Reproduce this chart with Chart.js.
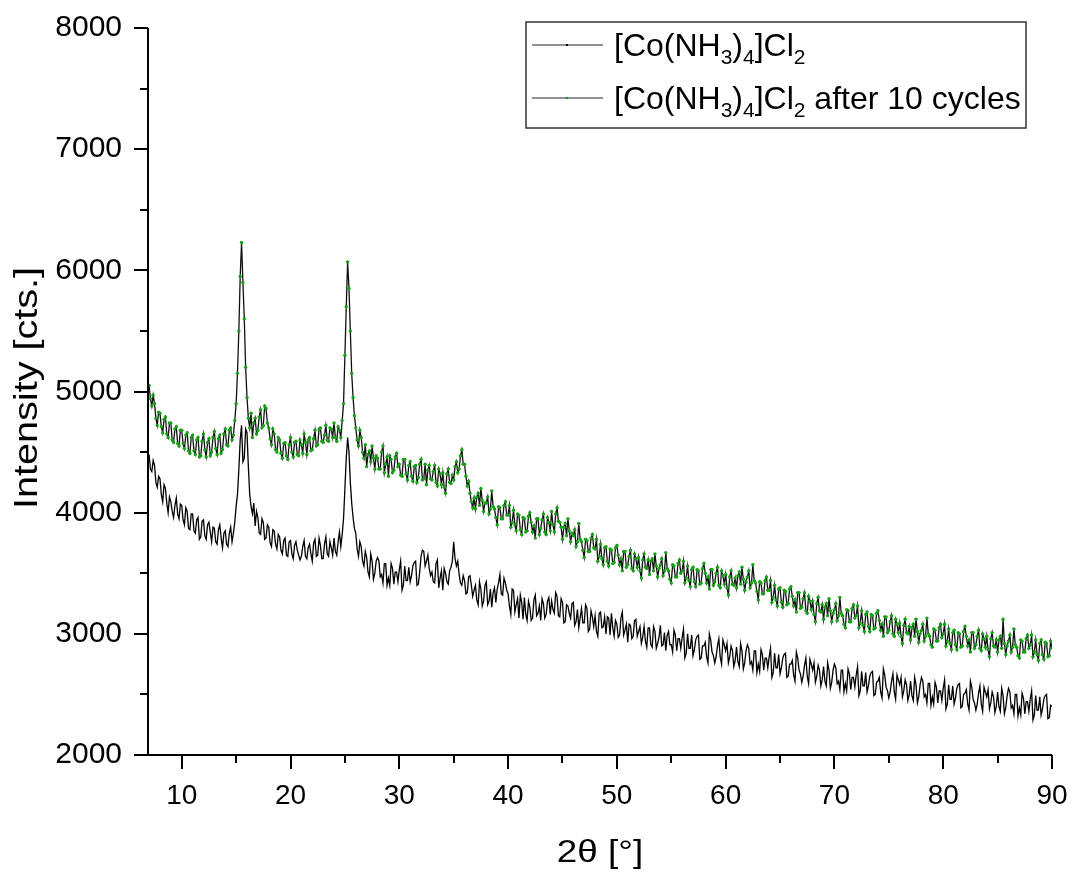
<!DOCTYPE html>
<html>
<head>
<meta charset="utf-8">
<script src="https://cdn.jsdelivr.net/npm/chart.js@4.4.0/dist/chart.umd.min.js"></script>
<style>
  html, body { margin: 0; padding: 0; background: #fff; }
  #xrd { display: block; }
</style>
</head>
<body>
<canvas id="xrd" width="1073" height="875"></canvas>
<script>
// 2theta sampling of both scans (8 points per degree)
const angleStart = 7;
const angleStep = 0.125;

// [Co(NH3)4]Cl2, as prepared (black)
const fresh = [
  4480, 4360, 4340, 4430, 4390, 4250, 4210, 4300,   // 7
  4280, 4150, 4090, 4230, 4200, 4080, 4000, 4130,   // 8
  4090, 4010, 3960, 4060, 4120, 3990, 3950, 4070,   // 9
  4060, 3940, 3900, 4040, 4010, 3870, 3860, 3990,   // 10
  3990, 3850, 3830, 3940, 3960, 3780, 3800, 3930,   // 11
  3940, 3810, 3780, 3900, 3920, 3840, 3760, 3880,   // 12
  3870, 3760, 3740, 3860, 3900, 3790, 3710, 3830,   // 13
  3850, 3740, 3720, 3830, 3880, 3760, 3830, 3920,   // 14
  4050, 4150, 4350, 4600, 4720, 4420, 4450, 4690,   // 15
  4660, 4380, 4150, 4050, 3990, 4080, 3890, 4010,   // 16
  3960, 3830, 3820, 3950, 3920, 3780, 3790, 3900,   // 17
  3880, 3750, 3720, 3860, 3850, 3740, 3700, 3820,   // 18
  3800, 3690, 3660, 3770, 3790, 3650, 3640, 3760,   // 19
  3770, 3660, 3620, 3730, 3760, 3690, 3650, 3610,   // 20
  3640, 3720, 3770, 3640, 3620, 3710, 3740, 3660,   // 21
  3600, 3750, 3780, 3640, 3650, 3790, 3730, 3620,   // 22
  3620, 3740, 3800, 3660, 3640, 3760, 3710, 3650,   // 23
  3790, 3680, 3650, 3760, 3840, 3720, 3820, 3950,   // 24
  4200, 4450, 4620, 4500, 4250, 4080, 3960, 3870,   // 25
  3830, 3700, 3640, 3760, 3720, 3600, 3560, 3680,   // 26
  3630, 3510, 3470, 3660, 3600, 3450, 3500, 3600,   // 27
  3630, 3600, 3470, 3490, 3420, 3580, 3580, 3400,   // 28
  3460, 3400, 3580, 3540, 3410, 3510, 3510, 3430,   // 29
  3530, 3600, 3360, 3400, 3560, 3440, 3440, 3550,   // 30
  3430, 3480, 3560, 3590, 3600, 3400, 3410, 3510,   // 31
  3640, 3690, 3680, 3560, 3600, 3650, 3540, 3480,   // 32
  3510, 3430, 3420, 3580, 3610, 3380, 3460, 3520,   // 33
  3360, 3540, 3500, 3430, 3410, 3520, 3550, 3600,   // 34
  3760, 3620, 3560, 3600, 3490, 3420, 3400, 3480,   // 35
  3440, 3330, 3340, 3470, 3480, 3400, 3310, 3360,   // 36
  3400, 3280, 3240, 3430, 3370, 3230, 3270, 3400,   // 37
  3430, 3240, 3270, 3370, 3220, 3340, 3380, 3260,   // 38
  3370, 3420, 3490, 3330, 3320, 3460, 3420, 3360,   // 39
  3330, 3230, 3160, 3370, 3360, 3180, 3240, 3290,   // 40
  3130, 3320, 3260, 3120, 3300, 3160, 3110, 3270,   // 41
  3220, 3110, 3130, 3280, 3320, 3150, 3170, 3230,   // 42
  3110, 3290, 3250, 3130, 3160, 3270, 3300, 3160,   // 43
  3270, 3200, 3170, 3340, 3310, 3150, 3140, 3290,   // 44
  3260, 3090, 3100, 3240, 3230, 3170, 3130, 3250,   // 45
  3260, 3070, 3100, 3200, 3050, 3130, 3210, 3090,   // 46
  3090, 3240, 3210, 3020, 3040, 3190, 3140, 3060,   // 47
  3150, 3020, 2980, 3170, 3180, 3050, 3060, 3140,   // 48
  3000, 3140, 3130, 2990, 3170, 3050, 2980, 3110,   // 49
  3080, 2970, 2990, 3130, 3180, 2990, 3030, 3080,   // 50
  2930, 3080, 3070, 2960, 2980, 3110, 3120, 2980,   // 51
  3020, 3060, 2920, 2970, 3060, 2940, 2890, 3050,   // 52
  3050, 2910, 2890, 3060, 3020, 2880, 2920, 2970,   // 53
  3070, 2900, 2910, 3010, 2860, 2990, 3020, 2910,   // 54
  2910, 2850, 3030, 2990, 2860, 2960, 2960, 2880,   // 55
  2970, 3040, 2800, 2840, 3000, 2880, 2880, 2990,   // 56
  2820, 2870, 2950, 2980, 2990, 2790, 2800, 2900,   // 57
  2900, 2930, 2810, 2760, 3000, 2950, 2850, 2820,   // 58
  2760, 2810, 2900, 2960, 2810, 2750, 2950, 2910,   // 59
  2860, 2920, 2760, 2810, 2900, 2860, 2730, 2780,   // 60
  2890, 2770, 2730, 2920, 2860, 2710, 2760, 2860,   // 61
  2910, 2880, 2750, 2770, 2700, 2860, 2860, 2680,   // 62
  2750, 2690, 2870, 2830, 2700, 2800, 2800, 2720,   // 63
  2810, 2880, 2640, 2680, 2840, 2720, 2720, 2830,   // 64
  2670, 2720, 2800, 2830, 2840, 2640, 2650, 2750,   // 65
  2750, 2780, 2660, 2610, 2850, 2800, 2700, 2670,   // 66
  2600, 2650, 2740, 2800, 2650, 2590, 2790, 2750,   // 67
  2700, 2760, 2600, 2650, 2740, 2700, 2570, 2620,   // 68
  2730, 2610, 2570, 2760, 2700, 2550, 2600, 2700,   // 69
  2750, 2720, 2590, 2610, 2540, 2700, 2700, 2520,   // 70
  2590, 2530, 2710, 2670, 2540, 2640, 2640, 2560,   // 71
  2660, 2730, 2490, 2530, 2690, 2570, 2570, 2680,   // 72
  2520, 2570, 2650, 2680, 2690, 2490, 2500, 2600,   // 73
  2610, 2640, 2520, 2470, 2710, 2660, 2560, 2530,   // 74
  2470, 2520, 2610, 2670, 2520, 2460, 2660, 2620,   // 75
  2580, 2640, 2480, 2530, 2620, 2580, 2450, 2500,   // 76
  2610, 2490, 2450, 2640, 2580, 2430, 2480, 2580,   // 77
  2640, 2610, 2480, 2500, 2430, 2590, 2590, 2410,   // 78
  2480, 2420, 2600, 2560, 2430, 2530, 2530, 2450,   // 79
  2550, 2620, 2380, 2420, 2580, 2460, 2460, 2570,   // 80
  2420, 2470, 2550, 2580, 2590, 2390, 2400, 2500,   // 81
  2510, 2540, 2420, 2370, 2610, 2560, 2460, 2430,   // 82
  2370, 2420, 2510, 2570, 2420, 2360, 2560, 2520,   // 83
  2480, 2540, 2380, 2430, 2520, 2480, 2350, 2400,   // 84
  2520, 2400, 2360, 2550, 2490, 2340, 2390, 2490,   // 85
  2550, 2520, 2390, 2410, 2340, 2500, 2500, 2320,   // 86
  2390, 2330, 2510, 2470, 2340, 2440, 2440, 2360,   // 87
  2460, 2530, 2290, 2330, 2490, 2370, 2370, 2480,   // 88
  2330, 2380, 2460, 2490, 2500, 2300, 2310, 2410,   // 89
  2400                                              // 90
];

// same compound after 10 cycles (green)
const cycled = [
  5050, 4940, 4880, 4970, 4900, 4780, 4720, 4830,   // 7
  4820, 4710, 4660, 4770, 4790, 4650, 4620, 4740,   // 8
  4740, 4600, 4580, 4690, 4710, 4570, 4550, 4680,   // 9
  4680, 4570, 4530, 4640, 4660, 4510, 4490, 4620,   // 10
  4640, 4510, 4480, 4600, 4620, 4460, 4470, 4590,   // 11
  4650, 4520, 4460, 4580, 4610, 4470, 4500, 4620,   // 12
  4670, 4530, 4480, 4610, 4640, 4490, 4520, 4650,   // 13
  4690, 4560, 4550, 4680, 4700, 4600, 4640, 4760,   // 14
  4900, 5150, 5500, 5950, 6230, 5900, 5600, 5200,   // 15
  4950, 4780, 4700, 4820, 4620, 4740, 4780, 4650,   // 16
  4680, 4790, 4850, 4700, 4720, 4880, 4860, 4740,   // 17
  4700, 4610, 4560, 4690, 4650, 4520, 4500, 4620,   // 18
  4600, 4490, 4450, 4570, 4580, 4470, 4440, 4560,   // 19
  4620, 4500, 4460, 4580, 4590, 4480, 4470, 4600,   // 20
  4560, 4490, 4650, 4580, 4480, 4600, 4620, 4510,   // 21
  4520, 4610, 4680, 4550, 4560, 4690, 4700, 4590,   // 22
  4580, 4640, 4720, 4600, 4590, 4700, 4690, 4620,   // 23
  4740, 4620, 4590, 4710, 4680, 4620, 4760, 4900,   // 24
  5300, 5700, 6070, 5850, 5500, 5150, 4950, 4800,   // 25
  4700, 4600, 4550, 4680, 4620, 4500, 4450, 4560,   // 26
  4380, 4480, 4510, 4420, 4550, 4450, 4360, 4470,   // 27
  4450, 4360, 4360, 4500, 4550, 4330, 4400, 4460,   // 28
  4300, 4470, 4440, 4330, 4350, 4460, 4490, 4380,   // 29
  4400, 4310, 4300, 4440, 4440, 4320, 4270, 4390,   // 30
  4420, 4300, 4260, 4380, 4390, 4250, 4290, 4400,   // 31
  4440, 4270, 4280, 4400, 4230, 4350, 4390, 4280,   // 32
  4270, 4340, 4390, 4250, 4220, 4360, 4320, 4230,   // 33
  4330, 4210, 4160, 4320, 4360, 4250, 4240, 4310,   // 34
  4270, 4380, 4420, 4330, 4360, 4470, 4520, 4400,   // 35
  4400, 4300, 4220, 4260, 4160, 4090, 4040, 4120,   // 36
  4030, 4130, 4160, 4060, 4200, 4100, 4010, 4080,   // 37
  4080, 4130, 3990, 4030, 4180, 4050, 4030, 3960,   // 38
  3900, 4050, 4040, 3950, 3950, 4060, 4090, 3980,   // 39
  3980, 4060, 3880, 3920, 4020, 3900, 3850, 3990,   // 40
  3980, 3860, 3820, 3960, 3950, 3840, 3850, 3970,   // 41
  4000, 3920, 3840, 3890, 3790, 3950, 3950, 3820,   // 42
  3870, 3940, 3990, 3840, 3820, 3960, 3920, 3850,   // 43
  4010, 3900, 3840, 3990, 4040, 3930, 3920, 3880,   // 44
  3780, 3880, 3910, 3810, 3950, 3850, 3760, 3830,   // 45
  3810, 3860, 3720, 3760, 3910, 3780, 3760, 3690,   // 46
  3630, 3780, 3770, 3680, 3680, 3790, 3820, 3710,   // 47
  3700, 3780, 3600, 3640, 3740, 3620, 3570, 3710,   // 48
  3720, 3600, 3560, 3700, 3690, 3580, 3590, 3710,   // 49
  3730, 3650, 3570, 3620, 3520, 3680, 3680, 3550,   // 50
  3570, 3640, 3690, 3540, 3520, 3660, 3620, 3550,   // 51
  3630, 3520, 3460, 3610, 3660, 3550, 3540, 3610,   // 52
  3490, 3600, 3620, 3520, 3660, 3560, 3470, 3540,   // 53
  3570, 3620, 3480, 3520, 3670, 3540, 3520, 3450,   // 54
  3420, 3570, 3560, 3470, 3470, 3580, 3610, 3500,   // 55
  3520, 3600, 3420, 3460, 3560, 3440, 3390, 3530,   // 56
  3550, 3430, 3390, 3530, 3520, 3410, 3420, 3540,   // 57
  3580, 3500, 3420, 3470, 3370, 3530, 3530, 3400,   // 58
  3430, 3500, 3550, 3400, 3380, 3520, 3480, 3410,   // 59
  3490, 3380, 3320, 3470, 3520, 3410, 3400, 3460,   // 60
  3380, 3480, 3510, 3410, 3550, 3450, 3360, 3430,   // 61
  3470, 3520, 3380, 3420, 3570, 3440, 3420, 3350,   // 62
  3280, 3430, 3420, 3330, 3330, 3440, 3470, 3360,   // 63
  3360, 3440, 3260, 3300, 3400, 3280, 3230, 3370,   // 64
  3380, 3260, 3220, 3360, 3350, 3240, 3250, 3370,   // 65
  3390, 3310, 3230, 3280, 3180, 3340, 3340, 3210,   // 66
  3220, 3290, 3340, 3190, 3170, 3310, 3270, 3200,   // 67
  3270, 3160, 3100, 3250, 3300, 3190, 3180, 3240,   // 68
  3120, 3220, 3250, 3150, 3290, 3190, 3100, 3170,   // 69
  3200, 3250, 3110, 3150, 3300, 3170, 3150, 3080,   // 70
  3050, 3200, 3190, 3100, 3100, 3210, 3240, 3130,   // 71
  3150, 3230, 3050, 3090, 3190, 3070, 3020, 3160,   // 72
  3180, 3060, 3020, 3160, 3150, 3040, 3050, 3170,   // 73
  3190, 3110, 3030, 3080, 2980, 3140, 3140, 3010,   // 74
  3030, 3100, 3150, 3000, 2980, 3120, 3080, 3010,   // 75
  3090, 2980, 2920, 3070, 3120, 3010, 3000, 3060,   // 76
  2950, 3050, 3080, 2980, 3120, 3020, 2930, 3000,   // 77
  3030, 3080, 2940, 2980, 3130, 3000, 2980, 2910,   // 78
  2890, 3040, 3030, 2940, 2940, 3050, 3080, 2970,   // 79
  3000, 3080, 2900, 2940, 3040, 2920, 2870, 3010,   // 80
  3030, 2910, 2870, 3010, 3000, 2890, 2900, 3020,   // 81
  3060, 2980, 2900, 2950, 2850, 3010, 3010, 2880,   // 82
  2910, 2980, 3030, 2880, 2860, 3000, 2960, 2890,   // 83
  2980, 2870, 2810, 2960, 3010, 2900, 2890, 2950,   // 84
  2850, 2950, 2980, 2880, 3120, 2920, 2830, 2900,   // 85
  2940, 2990, 2850, 2890, 3040, 2910, 2890, 2820,   // 86
  2800, 2950, 2940, 2850, 2850, 2960, 2990, 2880,   // 87
  2910, 2990, 2810, 2850, 2950, 2830, 2780, 2920,   // 88
  2950, 2830, 2790, 2930, 2920, 2810, 2820, 2940,   // 89
  2880                                              // 90
];

const xTicks = [10, 20, 30, 40, 50, 60, 70, 80, 90];
const yTicks = [2000, 3000, 4000, 5000, 6000, 7000, 8000];

// legend labels, pieces flagged 1 are drawn as subscripts
const freshLabel = [['[Co(NH'], ['3', 1], [')'], ['4', 1], [']Cl'], ['2', 1]];
const cycledLabel = freshLabel.concat([[' after 10 cycles']]);

const FONT = '"Liberation Sans", Arial, sans-serif';

function toPoints(arr) {
  return arr.map((v, i) => ({ x: angleStart + i * angleStep, y: v }));
}

function drawLabel(ctx, parts, x, y) {
  for (const [txt, sub] of parts) {
    ctx.font = (sub ? '21px ' : '32px ') + FONT;
    ctx.fillText(txt, x, sub ? y + 8 : y);
    x += ctx.measureText(txt).width;
  }
}

// axes, ticks, titles and legend are drawn by hand to match the Origin look
const decorations = {
  id: 'decorations',
  afterDraw(chart) {
    const { ctx, chartArea: a, scales: { x, y } } = chart;
    ctx.save();
    ctx.strokeStyle = '#000';
    ctx.lineWidth = 2;
    ctx.beginPath();
    ctx.moveTo(a.left, a.top);
    ctx.lineTo(a.left, a.bottom);
    ctx.lineTo(a.right, a.bottom);
    for (let v = 2000; v <= 8000; v += 500) {
      const py = Math.round(y.getPixelForValue(v));
      const len = v % 1000 ? 8 : 14;
      ctx.moveTo(a.left - len, py);
      ctx.lineTo(a.left, py);
    }
    for (let v = 10; v <= 90; v += 5) {
      const px = Math.round(x.getPixelForValue(v));
      const len = v % 10 ? 8 : 14;
      ctx.moveTo(px, a.bottom);
      ctx.lineTo(px, a.bottom + len);
    }
    ctx.stroke();

    // axis titles, a bit wider than plain Arial as in the original
    ctx.fillStyle = '#000';
    ctx.textAlign = 'center';
    ctx.textBaseline = 'middle';
    ctx.font = '32px ' + FONT;
    ctx.translate((a.left + a.right) / 2, 853);
    ctx.scale(1.15, 1);
    ctx.fillText('2\u03b8 [\u00b0]', 0, 0);
    ctx.setTransform(1, 0, 0, 1, 0, 0);
    ctx.font = '33px ' + FONT;
    ctx.translate(28, 388);
    ctx.rotate(-Math.PI / 2);
    ctx.scale(1.2, 1);
    ctx.fillText('Intensity [cts.]', 0, 0);
    ctx.setTransform(1, 0, 0, 1, 0, 0);

    // legend
    ctx.lineWidth = 1.5;
    ctx.strokeStyle = '#333';
    ctx.strokeRect(526, 22, 500, 106);
    const rows = [
      { parts: freshLabel, y: 45, dot: '#000' },
      { parts: cycledLabel, y: 98, dot: '#119911' }
    ];
    ctx.textAlign = 'left';
    ctx.textBaseline = 'alphabetic';
    for (const r of rows) {
      ctx.strokeStyle = '#222';
      ctx.lineWidth = 1;
      ctx.beginPath();
      ctx.moveTo(532, r.y);
      ctx.lineTo(603, r.y);
      ctx.stroke();
      ctx.fillStyle = r.dot;
      ctx.fillRect(566, r.y - 1, 2, 2);
      ctx.fillStyle = '#000';
      drawLabel(ctx, r.parts, 614, r.y + 11);
    }
    ctx.restore();
  }
};

new Chart(document.getElementById('xrd'), {
  type: 'line',
  data: {
    datasets: [
      {
        label: '[Co(NH3)4]Cl2',
        data: toPoints(fresh),
        borderColor: '#000',
        borderWidth: 1.3,
        pointRadius: 0
      },
      {
        label: '[Co(NH3)4]Cl2 after 10 cycles',
        data: toPoints(cycled),
        borderColor: '#111',
        borderWidth: 1.3,
        pointRadius: 1.7,
        pointBorderWidth: 0,
        pointBackgroundColor: '#15a015'
      }
    ]
  },
  options: {
    responsive: false,
    animation: false,
    devicePixelRatio: 1,
    layout: { padding: { top: 28, right: 21, left: 0, bottom: 0 } },
    plugins: {
      legend: { display: false },
      tooltip: { enabled: false }
    },
    elements: { line: { tension: 0 } },
    scales: {
      x: {
        type: 'linear',
        min: 6.9,
        max: 90,
        grid: { display: false, drawTicks: false },
        border: { display: false },
        afterFit(s) {
          s.height = 120;
          s.paddingLeft = 0;
          s.paddingRight = 0;
        },
        afterBuildTicks(s) { s.ticks = xTicks.map(v => ({ value: v })); },
        ticks: {
          padding: 24,
          color: '#000',
          font: { family: FONT, size: 28 },
          maxRotation: 0
        }
      },
      y: {
        min: 2000,
        max: 8000,
        grid: { display: false, drawTicks: false },
        border: { display: false },
        afterFit(s) {
          s.width = 148;
          s.paddingTop = 0;
          s.paddingBottom = 0;
        },
        afterBuildTicks(s) { s.ticks = yTicks.map(v => ({ value: v })); },
        ticks: {
          padding: 26,
          color: '#000',
          font: { family: FONT, size: 30 },
          callback: v => String(v)
        }
      }
    }
  },
  plugins: [decorations]
});
</script>
</body>
</html>
